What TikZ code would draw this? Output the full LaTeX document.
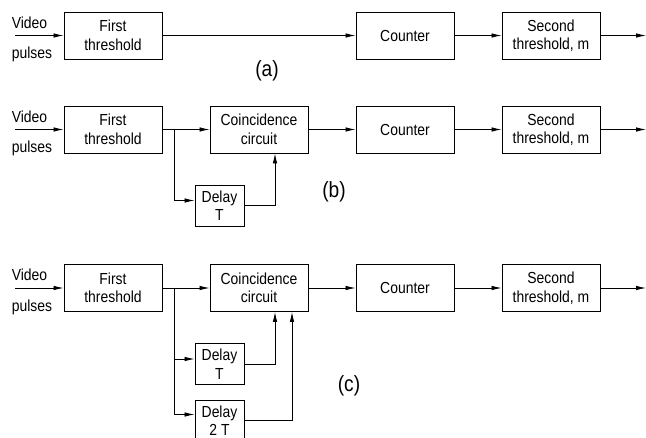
\documentclass[tikz,border=0pt]{standalone}
\usepackage{fontspec}
\setmainfont{Liberation Sans}[FakeStretch=0.87]
\usetikzlibrary{arrows.meta,calc,positioning}

\begin{document}
\begin{tikzpicture}[
  x=1pt,y=-1pt,
  >=Latex,
  block/.style={draw=black,line width=.9pt,minimum width=98,minimum height=47,
    inner sep=1pt,align=center,font=\fontsize{16}{18.5}\selectfont},
  delaybox/.style={block,minimum width=49,minimum height=41},
  inlabel/.style={font=\fontsize{16}{19}\selectfont,inner sep=0pt},
  caption/.style={font=\fontsize{22}{24}\selectfont,inner sep=0pt},
  sig/.style={-{Latex[length=10pt,width=4.5pt]},line width=.8pt}
]
\useasboundingbox (0,0) rectangle (646,438);

% The chain shared by the three variants
\foreach \r/\y in {a/35.5,b/129.5,c/288}{
  \node[inlabel] (vid\r) at (29.5,\y-13) {Video};
  \node[inlabel] (pul\r) at (32,\y+19) {pulses};
  \coordinate (in\r) at (15,\y);
  \coordinate (out\r) at (646,\y);
  \node[block] (ft\r) at (113,\y) {First\\threshold};
  \node[block] (cnt\r) at (405,\y) {Counter};
  \node[block] (st\r) at (551,\y) {Second\\threshold, m};
  \draw[sig] (in\r) -- (ft\r);
  \draw[sig] (cnt\r) -- (st\r);
  \draw[sig] (st\r) -- (out\r);
}

% (a) straight into the counter
\draw[sig] (fta) -- (cnta);
\node[caption] (capa) at (267,71) {(a)};

% (b) one delayed copy
\node[block] (coinb) at (259,129.5) {Coincidence\\circuit};
\node[delaybox] (dlyb) at (219.5,205.5) {Delay\\T};
\coordinate (splitb) at (174,129.5);
\draw[sig] (ftb) -- (coinb);
\draw[sig] (splitb) |- ($(dlyb.west)+(0,-5)$);
\draw[sig] (dlyb.east) -| ($(coinb.south)+(16,0)$);
\draw[sig] (coinb) -- (cntb);
\node[caption] (capb) at (334,192) {(b)};

% (c) two delayed copies
\node[block] (coinc) at (259,288) {Coincidence\\circuit};
\node[delaybox] (dlyc) at (219.5,364) {Delay\\T};
\node[delaybox] (dlyd) at (219.5,420.5) {Delay\\2 T};
\coordinate (splitc) at (174,288);
\draw[sig] (ftc) -- (coinc);
\draw[sig] (splitc) |- ($(dlyc.west)+(0,-5)$);
\draw[sig] (splitc) |- ($(dlyd.west)+(0,-6)$);
\draw[sig] (dlyc.east) -| ($(coinc.south)+(16,0)$);
\draw[sig] (dlyd.east) -| ($(coinc.south)+(33,0)$);
\draw[sig] (coinc) -- (cntc);
\node[caption] (capc) at (349,386) {(c)};

\end{tikzpicture}
\end{document}
